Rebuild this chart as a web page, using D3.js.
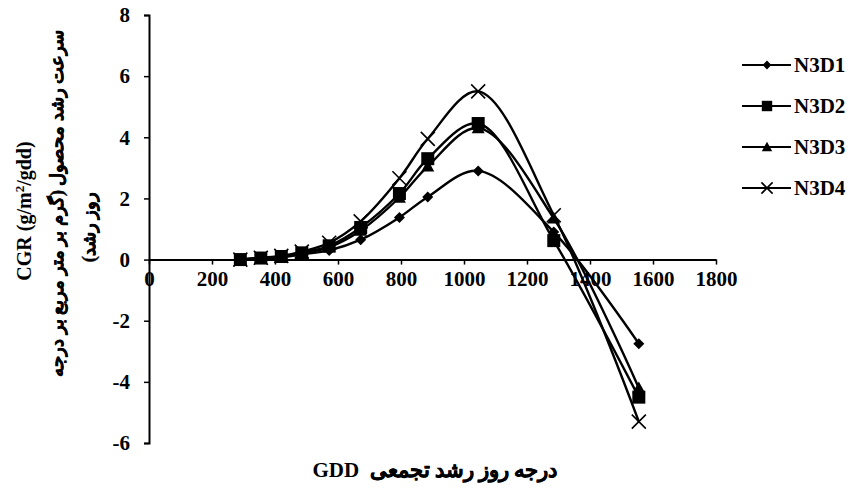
<!DOCTYPE html>
<html>
<head>
<meta charset="utf-8">
<script src="https://cdn.jsdelivr.net/npm/d3@7/dist/d3.min.js"></script>
<style>
  html, body { margin: 0; padding: 0; background: #fff; }
  svg { display: block; }
  text { font-family: "Liberation Serif", "Times New Roman", "DejaVu Serif", serif; font-weight: bold; fill: #000; }
  .fa { stroke: #000; stroke-width: 0.45px; }
</style>
</head>
<body>
<script>
// Growing degree days at each sampling date
const gdd = [290, 355, 420, 485, 572, 672, 795, 885, 1045, 1285, 1555];

// Crop growth rate (g/m2/gdd) per treatment
const seriesNames = ["N3D1", "N3D2", "N3D3", "N3D4"];
const n3d1 = [0.0, 0.04, 0.08, 0.17, 0.30, 0.65, 1.38, 2.05, 2.90, 0.90, -2.75];
const n3d2 = [0.0, 0.05, 0.10, 0.22, 0.45, 1.05, 2.16, 3.30, 4.45, 0.62, -4.50];
const n3d3 = [0.0, 0.05, 0.09, 0.20, 0.40, 0.95, 2.03, 3.05, 4.30, 1.35, -4.20];
const n3d4 = [0.0, 0.06, 0.12, 0.26, 0.55, 1.25, 2.66, 3.95, 5.50, 1.45, -5.30];
const seriesValues = [n3d1, n3d2, n3d3, n3d4];
const markerTypes = ["diamond", "square", "triangle", "cross"];

const xTicks = [0, 200, 400, 600, 800, 1000, 1200, 1400, 1600, 1800];
const yTicks = [-6, -4, -2, 0, 2, 4, 6, 8];

const W = 854, H = 489;
const svg = d3.select("body").append("svg").attr("width", W).attr("height", H);

const x = d3.scaleLinear().domain([0, 1800]).range([149, 716]);
const y = d3.scaleLinear().domain([-6, 8]).range([443, 15]);

// Axes (plain hyphen for negatives, serif bold labels)
const fmt = d => String(d);
const xAxis = d3.axisBottom(x).tickValues(xTicks).tickSize(5).tickSizeOuter(0).tickPadding(7).tickFormat(fmt);
const gx = svg.append("g").attr("transform", `translate(0,${y(0)})`).call(xAxis);
const yAxis = d3.axisLeft(y).tickValues(yTicks).tickSize(5).tickSizeOuter(5).tickPadding(14).tickFormat(fmt);
const gy = svg.append("g").attr("transform", `translate(${x(0)},0)`).call(yAxis);

[gx, gy].forEach(g => {
  g.attr("font-family", null).attr("font-size", null);
  g.select(".domain").attr("stroke", "#000").attr("stroke-width", 2);
  g.selectAll(".tick line").attr("stroke", "#000").attr("stroke-width", 1.5);
  g.selectAll(".tick text").style("font-size", "21px");
});

// Smoothed series lines
const line = d3.line()
  .x((d, i) => x(gdd[i]))
  .y(d => y(d))
  .curve(d3.curveCatmullRom.alpha(0.5));

const plot = svg.append("g");
seriesValues.forEach(vals => {
  plot.append("path")
    .attr("d", line(vals))
    .attr("fill", "none")
    .attr("stroke", "#000")
    .attr("stroke-width", 2.4);
});

function drawMarker(g, type, cx, cy, s) {
  if (type === "diamond") {
    g.append("path").attr("d", `M${cx},${cy - s}L${cx + s},${cy}L${cx},${cy + s}L${cx - s},${cy}Z`).attr("fill", "#000");
  } else if (type === "square") {
    g.append("rect").attr("x", cx - s).attr("y", cy - s).attr("width", 2 * s).attr("height", 2 * s).attr("fill", "#000");
  } else if (type === "triangle") {
    g.append("path").attr("d", `M${cx},${cy - s}L${cx + s},${cy + s * 0.8}L${cx - s},${cy + s * 0.8}Z`).attr("fill", "#000");
  } else {
    g.append("path").attr("d", `M${cx - s},${cy - s}L${cx + s},${cy + s}M${cx - s},${cy + s}L${cx + s},${cy - s}`)
      .attr("stroke", "#000").attr("stroke-width", 1.6).attr("fill", "none");
  }
}
const markerSize = { diamond: 5.5, square: 6.5, triangle: 6.5, cross: 7 };

seriesValues.forEach((vals, si) => {
  const g = plot.append("g");
  vals.forEach((v, i) => drawMarker(g, markerTypes[si], x(gdd[i]), y(v), markerSize[markerTypes[si]]));
});

// Legend
const legend = svg.append("g");
const legendY = [65, 106, 147, 188];
seriesNames.forEach((name, i) => {
  const ly = legendY[i];
  legend.append("line").attr("x1", 742).attr("x2", 791).attr("y1", ly).attr("y2", ly)
    .attr("stroke", "#000").attr("stroke-width", 2.2);
  drawMarker(legend, markerTypes[i], 767, ly, markerSize[markerTypes[i]] * 0.8);
  legend.append("text").attr("x", 794).attr("y", ly).attr("dy", "0.35em")
    .style("font-size", "21px").text(name);
});

// Y axis title (English + Persian), rotated
const yTitle = svg.append("g");
yTitle.append("text")
  .attr("transform", "translate(31,211) rotate(-90)")
  .attr("text-anchor", "middle")
  .style("font-size", "20px")
  .html('CGR (g/m<tspan baseline-shift="super" style="font-size:13px">2</tspan>/gdd)');
yTitle.append("text")
  .attr("class", "fa")
  .attr("transform", "translate(63,203) rotate(-90)")
  .attr("text-anchor", "middle")
  .attr("direction", "rtl")
  .style("font-size", "18px")
  .text("سرعت رشد محصول (گرم بر متر مربع بر درجه");
yTitle.append("text")
  .attr("class", "fa")
  .attr("transform", "translate(95,227) rotate(-90)")
  .attr("text-anchor", "middle")
  .attr("direction", "rtl")
  .style("font-size", "18px")
  .text("روز رشد)");

// X axis title
svg.append("text")
  .attr("x", 435).attr("y", 477)
  .attr("text-anchor", "middle")
  .style("font-size", "21px")
  .html('GDD\u00A0\u00A0<tspan class="fa">درجه روز رشد تجمعی</tspan>');
</script>
</body>
</html>
